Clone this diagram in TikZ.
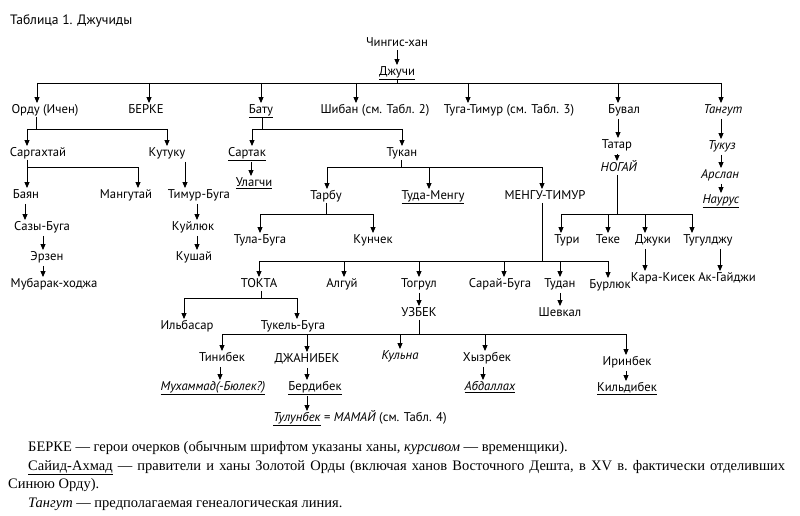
\documentclass[tikz,border=0pt]{standalone}
\usepackage{fontspec}
\setmainfont{PT Sans}
\newfontfamily\legfont{Liberation Serif}
\usetikzlibrary{arrows.meta}
\newcommand\mydrop[3]{\draw[arr] (#1,#2) -- (#1,0 |- #3.north);}
\newcommand\mydar[3]{\draw[arr,shorten <=2pt] (#1,0 |- #2.south) -- (#1,0 |- #3.north);}
\newcommand\mystub[3]{\draw[ln] (#1,0 |- #2.south) -- (#1,#3);}
\newcommand\mybus[3]{\draw[ln] (#1,#3) -- (#2,#3);}
\begin{document}
\begin{tikzpicture}[x=1pt,y=-1pt,
  every node/.style={inner sep=1pt, font=\fontsize{12.7}{15}\selectfont, text height=9pt, text depth=2.5pt},
  arr/.style={-{Triangle[length=6pt,width=5pt]}, line width=0.9pt},
  ln/.style={line width=0.9pt},
  leg/.style={inner sep=0pt, anchor=base west, font=\legfont\fontsize{14.5}{17}\selectfont}]
\fill[white] (0,0) rectangle (800,516);
\useasboundingbox (0,0) rectangle (800,516);
\node[anchor=west, font=\fontsize{13.6}{16}\selectfont] (title) at (9,21) {Таблица 1. Джучиды};
% top
\node (chingis) at (397,43) {Чингис-хан};
\node (dzhuchi) at (397,72) {\underline{Джучи}};
\draw[arr] (chingis) -- (dzhuchi);
\mystub{397}{dzhuchi}{83}
\mybus{37}{721}{83}
% row 1
\node (orda) at (45,110) {Орду (Ичен)};
\node (berke) at (146,110) {БЕРКЕ};
\node (batu) at (261,110) {\underline{Бату}};
\node (shiban) at (375,110) {Шибан (см. Табл. 2)};
\node (tuga) at (509,110) {Туга-Тимур (см. Табл. 3)};
\node (buval) at (624,110) {Бувал};
\node (tangut) at (723,110) {\textit{Тангут}};
\mydrop{37}{83}{orda}
\mydrop{149}{83}{berke}
\mydrop{261}{83}{batu}
\mydrop{356}{83}{shiban}
\mydrop{468}{83}{tuga}
\mydrop{618}{83}{buval}
\mydrop{721}{83}{tangut}
% Orda branch
\node (sargakh) at (38,153) {Саргахтай};
\node (kutuku) at (167,153) {Кутуку};
\mystub{36}{orda}{129}
\mybus{27}{167}{129}
\mydrop{27}{129}{sargakh}
\mydrop{167}{129}{kutuku}
\node (bayan) at (26,195) {Баян};
\node (mangutai) at (126,195) {Мангутай};
\mystub{27}{sargakh}{167}
\mybus{27}{138}{167}
\mydrop{27}{167}{bayan}
\mydrop{138}{167}{mangutai}
\node (timurbuga) at (199,195) {Тимур-Буга};
\mydar{185}{kutuku}{timurbuga}
\node (sazy) at (42,227) {Сазы-Буга};
\node (erzen) at (47,257) {Эрзен};
\node (mubarak) at (54,284) {Мубарак-ходжа};
\mydar{25}{bayan}{sazy}
\mydar{43}{sazy}{erzen}
\mydar{43}{erzen}{mubarak}
\node (kuilyuk) at (193,227) {Куйлюк};
\node (kushai) at (194,257) {Кушай};
\mydar{197}{timurbuga}{kuilyuk}
\mydar{197}{kuilyuk}{kushai}
% Batu branch
\node (sartak) at (247,153) {\underline{Сартак}};
\node (tukan) at (402,153) {Тукан};
\mystub{262}{batu}{129}
\mybus{252}{402}{129}
\mydrop{252}{129}{sartak}
\mydrop{402}{129}{tukan}
\node (ulagchi) at (254,183) {\underline{Улагчи}};
\mydar{251}{sartak}{ulagchi}
\node (tarbu) at (326,196) {Тарбу};
\node (tudamengu) at (433,196) {\underline{Туда-Менгу}};
\node (mengu) at (545,196) {МЕНГУ-ТИМУР};
\mystub{401}{tukan}{167}
\mybus{327}{542}{167}
\mydrop{327}{167}{tarbu}
\mydrop{429}{167}{tudamengu}
\mydrop{542}{167}{mengu}
\node (tulabuga) at (260,240) {Тула-Буга};
\node (kunchek) at (373,240) {Кунчек};
\mystub{326}{tarbu}{214}
\mybus{260}{373}{214}
\mydrop{260}{214}{tulabuga}
\mydrop{373}{214}{kunchek}
% Buval and Tangut
\node (tatar) at (617,145) {Татар};
\node (nogai) at (619,168) {\textit{НОГАЙ}};
\mydar{618}{buval}{tatar}
\mydar{617}{tatar}{nogai}
\node (tukuz) at (722,146) {\textit{Тукуз}};
\node (arslan) at (720,175) {\textit{Арслан}};
\node (naurus) at (721,200) {\underline{\textit{Наурус}}};
\mydar{721}{tangut}{tukuz}
\mydar{721}{tukuz}{arslan}
\mydar{721}{arslan}{naurus}
% Nogai children
\node (turi) at (567,240) {Тури};
\node (teke) at (608,240) {Теке};
\node (dzhuki) at (653,240) {Джуки};
\node (tuguldzhu) at (708,240) {Тугулджу};
\mystub{617}{nogai}{214}
\mybus{561}{692}{214}
\mydrop{561}{214}{turi}
\mydrop{608}{214}{teke}
\mydrop{645}{214}{dzhuki}
\mydrop{692}{214}{tuguldzhu}
\node (karakisek) at (663,278) {Кара-Кисек};
\node (akgaiji) at (727,278) {Ак-Гайджи};
\mydar{645}{dzhuki}{karakisek}
\mydar{720}{tuguldzhu}{akgaiji}
% Mengu-Timur children
\node (tokta) at (259,284) {ТОКТА};
\node (algui) at (342,284) {Алгуй};
\node (togrul) at (419,284) {Тогрул};
\node (saraibuga) at (500,284) {Сарай-Буга};
\node (tudan) at (560,284) {Тудан};
\node (burlyuk) at (610,285) {Бурлюк};
\mystub{542}{mengu}{261}
\mybus{259}{608}{261}
\mydrop{259}{261}{tokta}
\mydrop{344}{261}{algui}
\mydrop{419}{261}{togrul}
\mydrop{504}{261}{saraibuga}
\mydrop{560}{261}{tudan}
\mydrop{608}{261}{burlyuk}
\node (shevkal) at (560,313) {Шевкал};
\mydar{560}{tudan}{shevkal}
\node (uzbek) at (419,313) {УЗБЕК};
\mydar{419}{togrul}{uzbek}
% Tokta children
\node (ilbasar) at (187,326) {Ильбасар};
\node (tukelbuga) at (293,326) {Тукель-Буга};
\mystub{261}{tokta}{298}
\mybus{184}{297}{298}
\mydrop{184}{298}{ilbasar}
\mydrop{297}{298}{tukelbuga}
% Uzbek children
\node (tinibek) at (222,358) {Тинибек};
\node (dzhanibek) at (307,359) {ДЖАНИБЕК};
\node (kulna) at (400,356) {\textit{Кульна}};
\node (khyzrbek) at (487,358) {Хызрбек};
\node (irinbek) at (627,362) {Иринбек};
\mystub{419}{uzbek}{334}
\mybus{222}{626}{334}
\mydrop{222}{334}{tinibek}
\mydrop{307}{334}{dzhanibek}
\mydrop{400}{334}{kulna}
\mydrop{485}{334}{khyzrbek}
\mydrop{626}{334}{irinbek}
\node (mukhammad) at (213,387) {\underline{\textit{Мухаммад(-Бюлек?)}}};
\node (berdibek) at (315,387) {\underline{Бердибек}};
\node (tulunbek) at (360,418) {\underline{\textit{Тулунбек}} = \textit{МАМАЙ} (см. Табл. 4)};
\node (abdallah) at (490,387) {\underline{\textit{Абдаллах}}};
\node (kildibek) at (627,388) {\underline{Кильдибек}};
\mydar{220}{tinibek}{mukhammad}
\mydar{307}{dzhanibek}{berdibek}
\mydar{307}{berdibek}{tulunbek}
\mydar{483}{khyzrbek}{abdallah}
\mydar{626}{irinbek}{kildibek}
% legend
\node[leg] (leg1) at (28,451) {БЕРКЕ — герои очерков (обычным шрифтом указаны ханы, \textit{курсивом} — временщики).};
\node[leg] (leg2) at (28,470) {\makebox[757pt][s]{\underline{Сайид-Ахмад} — правители и ханы Золотой Орды (включая ханов Восточного Дешта, в XV в.\ фактически отделивших}};
\node[leg] (leg3) at (8,488) {Синюю Орду).};
\node[leg] (leg4) at (28,507) {\textit{Тангут} — предполагаемая генеалогическая линия.};
\end{tikzpicture}
\end{document}
